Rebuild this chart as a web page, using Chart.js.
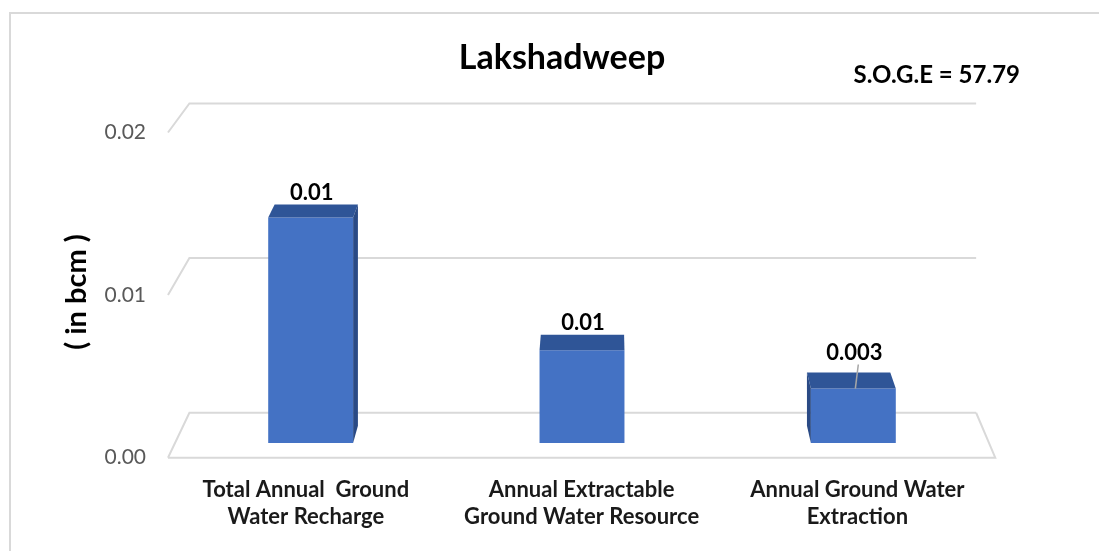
<!DOCTYPE html>
<html>
<head>
<meta charset="utf-8">
<script src="https://cdn.jsdelivr.net/npm/chart.js@4/dist/chart.umd.min.js"></script>
<style>
  html, body { margin: 0; padding: 0; background: #fff; }
  #wrap { width: 1099px; height: 551px; position: relative; }
</style>
</head>
<body>
<div id="wrap"><canvas id="c" width="1099" height="551"></canvas></div>
<script>
// ---- data ----
const chartTitle = "Lakshadweep";
const sogeText = "S.O.G.E = 57.79";
const yAxisTitle = "( in bcm )";
const categories = [
  ["Total Annual  Ground", "Water Recharge"],
  ["Annual Extractable", "Ground Water Resource"],
  ["Annual Ground Water", "Extraction"]
];
const values = [0.0141, 0.0058, 0.0034];
const valueLabels = ["0.01", "0.01", "0.003"];
const yTickValues = [0, 0.01, 0.02];
const yTickLabels = ["0.00", "0.01", "0.02"];

// ---- 3D perspective style ----
const FONT = "Lato, 'Open Sans', sans-serif";
const VP = { x: 605, y: -460 };
const K = { front: 1.0163, back: 0.9665, barBack: 0.981 };
function proj(x, y, k) { return [VP.x + (x - VP.x) * k, VP.y + (y - VP.y) * k]; }

const excel3d = {
  id: 'excel3d',
  beforeDatasetsDraw(chart) {
    const ctx = chart.ctx, ca = chart.chartArea, ys = chart.scales.y;
    ctx.save();
    // chart border
    ctx.strokeStyle = '#D9D9D9';
    ctx.lineWidth = 2;
    ctx.beginPath();
    ctx.moveTo(10, 560); ctx.lineTo(10, 13); ctx.lineTo(1110, 13);
    ctx.stroke();
    // grid
    ctx.strokeStyle = '#D9D9D9';
    ctx.lineWidth = 2;
    yTickValues.forEach((v) => {
      const y = ys.getPixelForValue(v);
      const bl = proj(ca.left, y, K.back), br = proj(ca.right, y, K.back);
      const fl = proj(ca.left, y, K.front);
      ctx.beginPath();
      ctx.moveTo(fl[0], fl[1]); ctx.lineTo(bl[0], bl[1]); ctx.lineTo(br[0], br[1]);
      ctx.stroke();
    });
    const y0 = ys.getPixelForValue(0);
    const fl = proj(ca.left, y0, K.front), fr = proj(ca.right, y0, K.front), br = proj(ca.right, y0, K.back);
    ctx.beginPath();
    ctx.moveTo(fl[0], fl[1]); ctx.lineTo(fr[0], fr[1]); ctx.lineTo(br[0], br[1]);
    ctx.stroke();
    // y tick labels
    ctx.fillStyle = '#595959';
    ctx.font = '21px ' + FONT;
    ctx.textAlign = 'right';
    ctx.textBaseline = 'middle';
    yTickValues.forEach((v, i) => {
      const p = proj(ca.left, ys.getPixelForValue(v), K.front);
      ctx.fillText(yTickLabels[i], p[0] - 22, p[1]);
    });
    ctx.restore();
  },
  afterDatasetsDraw(chart) {
    const ctx = chart.ctx, ca = chart.chartArea, xs = chart.scales.x, ys = chart.scales.y;
    const meta = chart.getDatasetMeta(0);
    ctx.save();
    meta.data.forEach((bar, i) => {
      const l = bar.x - bar.width / 2, r = bar.x + bar.width / 2;
      const t = bar.y, b = bar.base;
      // top face
      const tl = proj(l, t, K.barBack), tr = proj(r, t, K.barBack);
      ctx.fillStyle = '#2F5597';
      ctx.beginPath();
      ctx.moveTo(l, t); ctx.lineTo(r, t); ctx.lineTo(tr[0], tr[1]); ctx.lineTo(tl[0], tl[1]);
      ctx.closePath(); ctx.fill();
      // side face
      ctx.fillStyle = '#2A4A85';
      const sx = bar.x < VP.x ? r : l;
      const st = proj(sx, t, K.barBack), sb = proj(sx, b, K.barBack);
      if (Math.abs(st[0] - sx) > 1) {
        ctx.beginPath();
        ctx.moveTo(sx, t); ctx.lineTo(st[0], st[1]); ctx.lineTo(sb[0], sb[1]); ctx.lineTo(sx, b);
        ctx.closePath(); ctx.fill();
      }
      // data label
      const backTop = tl[1];
      const leader = i === 2;
      const ly = backTop - (leader ? 20 : 12);
      ctx.fillStyle = '#000';
      ctx.font = 'bold 22px ' + FONT;
      ctx.textAlign = 'center';
      ctx.textBaseline = 'middle';
      ctx.fillText(valueLabels[i], bar.x + 1, ly);
      if (leader) {
        ctx.strokeStyle = '#A6A6A6';
        ctx.lineWidth = 1.5;
        ctx.beginPath();
        ctx.moveTo(bar.x + 5, ly + 12); ctx.lineTo(bar.x + 2, t);
        ctx.stroke();
      }
    });
    // x category labels
    const y0 = ys.getPixelForValue(0);
    ctx.fillStyle = '#1A1A1A';
    ctx.font = 'bold 22px ' + FONT;
    ctx.textAlign = 'center';
    ctx.textBaseline = 'middle';
    categories.forEach((lines, i) => {
      const p = proj(xs.getPixelForValue(i), y0, K.front);
      lines.forEach((s, j) => ctx.fillText(s, p[0], p[1] + 32 + j * 27));
    });
    // titles
    ctx.fillStyle = '#000';
    ctx.font = 'bold 34px ' + FONT;
    ctx.fillText(chartTitle, 562, 58);
    ctx.font = 'bold 24px ' + FONT;
    ctx.textAlign = 'right';
    ctx.fillText(sogeText, 1020, 75);
    ctx.save();
    ctx.translate(77, 292);
    ctx.rotate(-Math.PI / 2);
    ctx.textAlign = 'center';
    ctx.font = 'bold 29px ' + FONT;
    ctx.fillText(yAxisTitle, 0, 0);
    ctx.restore();
    ctx.restore();
  }
};

new Chart(document.getElementById('c'), {
  type: 'bar',
  data: {
    labels: categories,
    datasets: [{
      data: values,
      backgroundColor: '#4472C4',
      borderWidth: 0,
      barPercentage: 0.313,
      categoryPercentage: 1
    }]
  },
  options: {
    responsive: false,
    animation: false,
    layout: { padding: { left: 175, right: 110, top: 123, bottom: 108 } },
    scales: {
      x: { display: false },
      y: { display: false, min: 0, max: 0.02 }
    },
    plugins: { legend: { display: false }, tooltip: { enabled: false }, title: { display: false } }
  },
  plugins: [excel3d]
});
</script>
</body>
</html>
